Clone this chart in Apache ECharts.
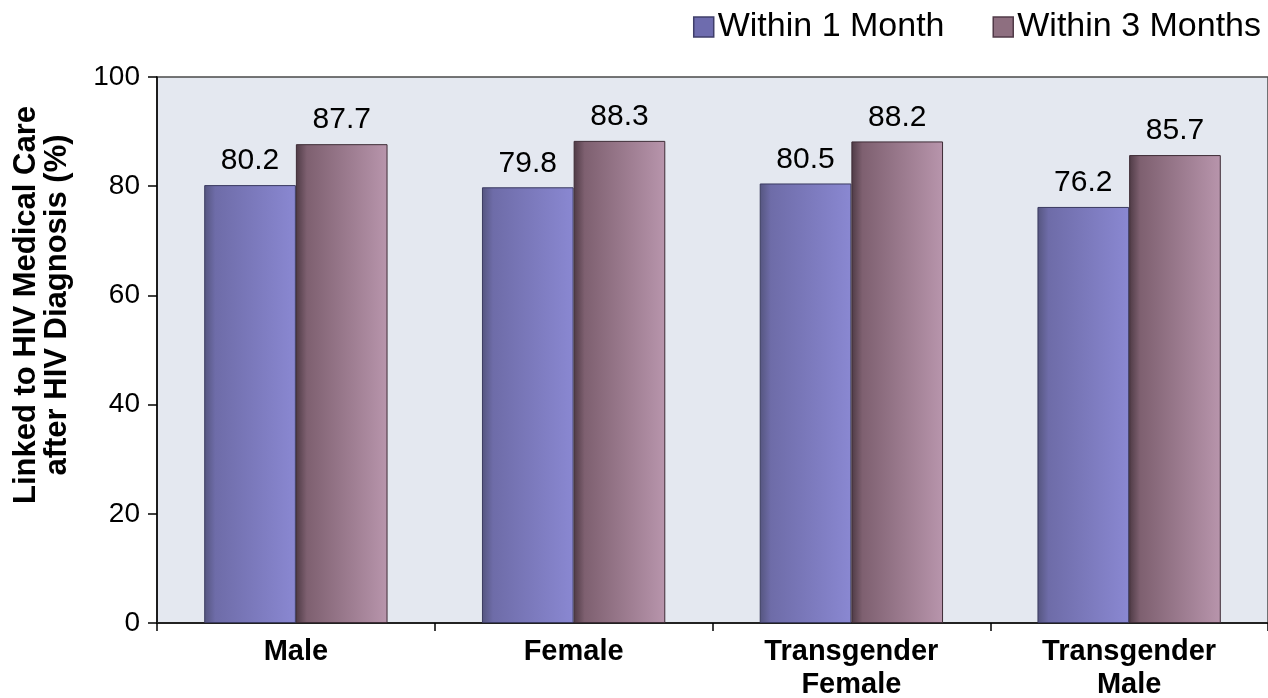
<!DOCTYPE html>
<html>
<head>
<meta charset="utf-8">
<script src="https://cdn.jsdelivr.net/npm/echarts@6/dist/echarts.min.js"></script>
<style>html,body{margin:0;padding:0;background:#fff}#c{width:1268px;height:698px}</style>
</head>
<body>
<div id="c"></div>
<script>
const categories = ['Male', 'Female', 'Transgender\nFemale', 'Transgender\nMale'];
const within1Month = [80.2, 79.8, 80.5, 76.2];
const within3Months = [87.7, 88.3, 88.2, 85.7];
const seriesNames = ['Within 1 Month', 'Within 3 Months'];
const yTicks = { min: 0, max: 100, interval: 20 };

const grad = (c0, c1, c2) => ({
  type: 'linear', x: 0, y: 0, x2: 1, y2: 0,
  colorStops: [{ offset: 0, color: c0 }, { offset: 0.12, color: c1 }, { offset: 1, color: c2 }]
});

const chart = echarts.init(document.getElementById('c'));
chart.setOption({
  animation: false,
  textStyle: { fontFamily: 'Liberation Sans, Arial, sans-serif' },
  legend: {
    right: 2, top: 5,
    itemWidth: 20, itemHeight: 20, itemGap: 48,
    textStyle: { fontSize: 34, color: '#000', padding: [0, 0, 0, -1] },
    data: [
      { name: seriesNames[0], icon: 'rect', itemStyle: { color: '#6e6cae', borderColor: '#3f3e6a', borderWidth: 1.5 } },
      { name: seriesNames[1], icon: 'rect', itemStyle: { color: '#8e6f80', borderColor: '#503a47', borderWidth: 1.5 } }
    ]
  },
  grid: {
    left: 157, right: 0, top: 77, bottom: 75,
    outerBoundsMode: 'none',
    show: true, backgroundColor: '#e4e8f0', borderColor: '#4a4a4a', borderWidth: 1.5
  },
  xAxis: {
    type: 'category', data: categories,
    axisLine: { lineStyle: { color: '#222', width: 2 } },
    axisTick: { show: true, length: 8, lineStyle: { color: '#000', width: 1.5 } },
    axisLabel: { fontSize: 29, fontWeight: 'bold', color: '#000', margin: 12, lineHeight: 33 }
  },
  yAxis: {
    type: 'value', min: yTicks.min, max: yTicks.max, interval: yTicks.interval,
    name: 'Linked to HIV Medical Care\nafter HIV Diagnosis (%)',
    nameLocation: 'middle', nameGap: 84,
    nameTextStyle: { fontSize: 31, fontWeight: 'bold', color: '#000', lineHeight: 31, padding: [0, 0, 0, 90] },
    splitLine: { show: false },
    axisLine: { show: true, lineStyle: { color: '#000', width: 1.5 } },
    axisTick: { show: true, length: 9, lineStyle: { color: '#000', width: 1.5 } },
    axisLabel: { fontSize: 28, color: '#000', margin: 17 }
  },
  series: [
    {
      name: seriesNames[0], type: 'bar', data: within1Month,
      barWidth: '33%', barGap: '0%',
      itemStyle: { color: grad('#55557f', '#6e6ca8', '#8a88d2'), borderColor: '#3a3a60', borderWidth: 1 },
      label: { show: true, position: 'top', distance: 9, fontSize: 30, color: '#000' }
    },
    {
      name: seriesNames[1], type: 'bar', data: within3Months,
      barWidth: '33%',
      itemStyle: { color: grad('#4e3a45', '#7e6070', '#b895ac'), borderColor: '#3e2c36', borderWidth: 1 },
      label: { show: true, position: 'top', distance: 9, fontSize: 30, color: '#000' }
    }
  ]
});
</script>
</body>
</html>
